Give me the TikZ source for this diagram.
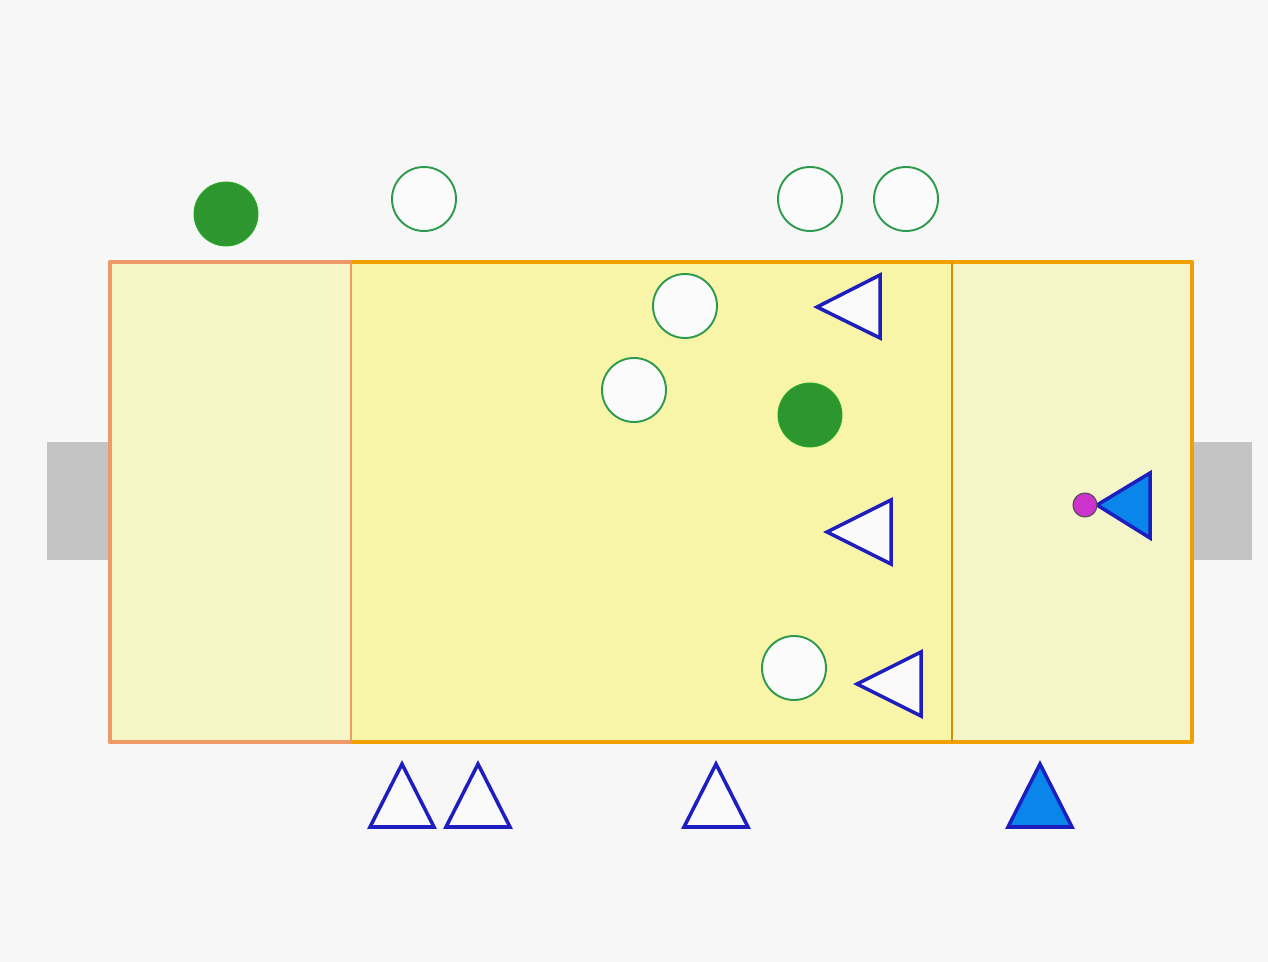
\documentclass[tikz,border=0pt]{standalone}
\begin{document}
\begin{tikzpicture}[x=0.02cm,y=-0.02cm,
  zoneline/.style={line width=2.6pt},
  opencirc/.style={draw=circgreen,fill=white!97!gray,line width=1.1pt},
  fullcirc/.style={fill=ballgreen,draw=ballgreen!80!green,line width=0.5pt},
  opentri/.style={draw=tblue,fill=white!96!gray,line width=2pt,line join=miter},
  fulltri/.style={draw=tblue,fill=tfill,line width=2pt,line join=miter}]
\definecolor{bg}{HTML}{F7F7F7}
\definecolor{zoneA}{HTML}{F6F6C6}
\definecolor{zoneB}{HTML}{F8F4A8}
\definecolor{zoneC}{HTML}{F4F5C8}
\definecolor{salmon}{HTML}{EE9966}
\definecolor{orng}{HTML}{F0A000}
\definecolor{goalgray}{HTML}{C4C4C4}
\definecolor{circgreen}{HTML}{2E9A4E}
\definecolor{ballgreen}{HTML}{2E962E}
\definecolor{tblue}{HTML}{1E1EC0}
\definecolor{tfill}{HTML}{0A86EA}
\definecolor{magent}{HTML}{CC33CC}
\useasboundingbox (0,0) rectangle (1268,962);
\fill[bg] (0,0) rectangle (1268,962);
% goals
\fill[goalgray] (47,442) rectangle (110,560);
\fill[goalgray] (1192,442) rectangle (1252,560);
% zones
\fill[zoneA] (110,262) rectangle (351,742);
\fill[zoneB] (351,262) rectangle (952,742);
\fill[zoneC] (952,262) rectangle (1192,742);
\draw[zoneline,orng,line join=round] (351,262) -- (1192,262) -- (1192,742) -- (351,742);
\draw[orng!90!black,line width=1.6pt] (952,262) -- (952,742);
\draw[zoneline,salmon,line join=round] (351,262) -- (110,262) -- (110,742) -- (351,742);
\draw[salmon,line width=1.6pt] (351,262) -- (351,742);
% filled circles
\node[fullcirc,circle,minimum size=64*0.02cm,inner sep=0] (g1) at (226,214) {};
\node[fullcirc,circle,minimum size=64*0.02cm,inner sep=0] (g2) at (810,415) {};
% open circles
\foreach \n/\x/\y in {o1/424/199, o2/810/199, o3/906/199, o4/685/306, o5/634/390, o6/794/668}
  \node[opencirc,circle,minimum size=64*0.02cm,inner sep=0] (\n) at (\x,\y) {};
% left-pointing open triangles
\draw[opentri] (817,307) -- (880,275) -- (880,338) -- cycle;
\draw[opentri] (827,532) -- (891,500) -- (891,564) -- cycle;
\draw[opentri] (857,684) -- (921,652) -- (921,716) -- cycle;
% up-pointing open triangles
\draw[opentri] (370,827) -- (402,764) -- (434,827) -- cycle;
\draw[opentri] (446,827) -- (478,764) -- (510,827) -- cycle;
\draw[opentri] (684,827) -- (716,764) -- (748,827) -- cycle;
% filled triangles
\draw[fulltri] (1008,827) -- (1040,764) -- (1072,827) -- cycle;
\draw[fulltri] (1097,505) -- (1150,473) -- (1150,538) -- cycle;
% ball
\node[circle,fill=magent,draw=black!70,line width=0.6pt,minimum size=24*0.02cm,inner sep=0] (ball) at (1085,505) {};
\end{tikzpicture}
\end{document}
